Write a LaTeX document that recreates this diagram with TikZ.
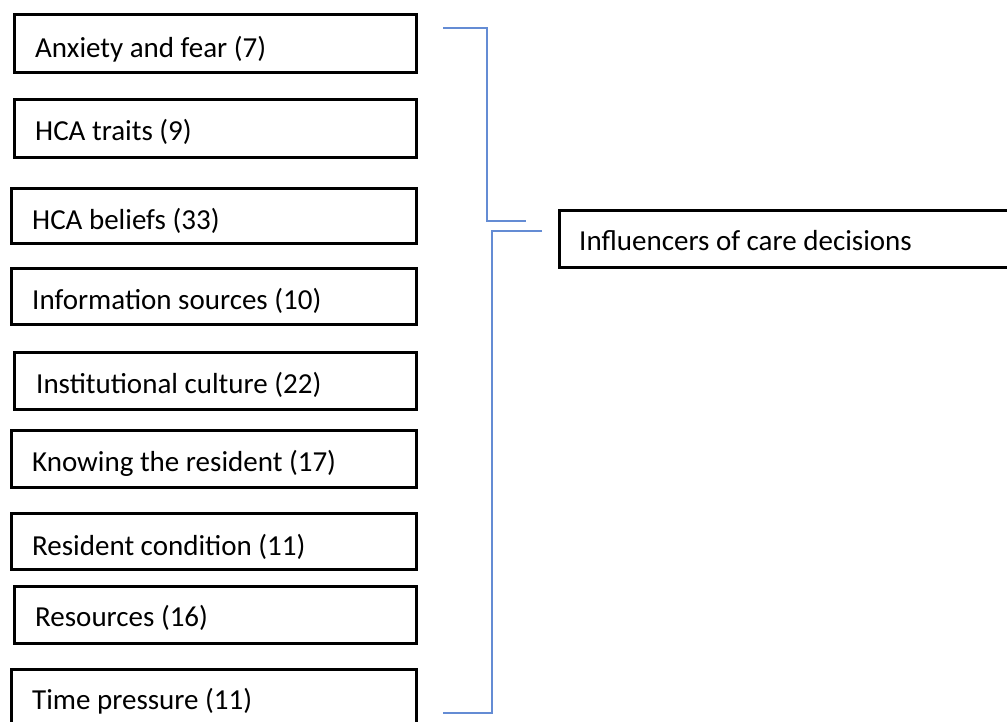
\documentclass[tikz,border=0pt]{standalone}
\usepackage{fontspec}
\setmainfont{Carlito}
\definecolor{linkblue}{RGB}{100,140,212}
\tikzset{
  box/.style={draw=black, line width=2.6pt, rectangle, inner sep=0pt, anchor=north west},
  lbl/.style={inner sep=0pt, anchor=base west, font=\fontsize{29}{35}\selectfont},
  link/.style={draw=linkblue, line width=1.5pt}
}
% \factor{name}{left}{top}{bottom}{text x}{baseline}{text}
\newcommand{\factor}[7]{%
  \node[box, minimum width={415pt-#2pt}, minimum height={#4pt-#3pt}] (#1) at (#2,#3) {};
  \node[lbl] (#1-t) at (#5,#6) {#7};
}
\begin{document}
\begin{tikzpicture}[x=1pt,y=-1pt]
\useasboundingbox (0,0) rectangle (1007,722);
\clip (0,0) rectangle (1007,722);
\fill[white] (0,0) rectangle (1007,722);

\factor{anx}{13}{13}{71}{35}{58}{Anxiety and fear (7)}
\factor{trt}{13}{98}{156}{35}{141}{HCA traits (9)}
\factor{blf}{10}{187}{242}{32}{230}{HCA beliefs (33)}
\factor{inf}{10}{267}{323}{32}{309}{Information sources (10)}
\factor{ins}{13}{351}{408}{36}{393}{Institutional culture (22)}
\factor{knw}{10}{429}{486}{32}{471}{Knowing the resident (17)}
\factor{rsc}{10}{512}{568}{32}{555}{Resident condition (11)}
\factor{res}{13}{585}{642}{35}{626}{Resources (16)}
\factor{tim}{10}{668}{740}{32}{709}{Time pressure (11)}

\node[box, minimum width=480pt, minimum height=57pt] (dec) at (558,209) {};
\node[lbl] (dec-t) at (579,251) {Influencers of care decisions};

% bracket joining the factor boxes to the decision box
\coordinate (top-a) at (443,28);
\coordinate (top-b) at (526,221);
\coordinate (bot-a) at (542,231);
\coordinate (bot-b) at (443,713);
\draw[link] (top-a) -- (487,28) |- (top-b);
\draw[link] (bot-a) -- (492,231) |- (bot-b);
\end{tikzpicture}
\end{document}
